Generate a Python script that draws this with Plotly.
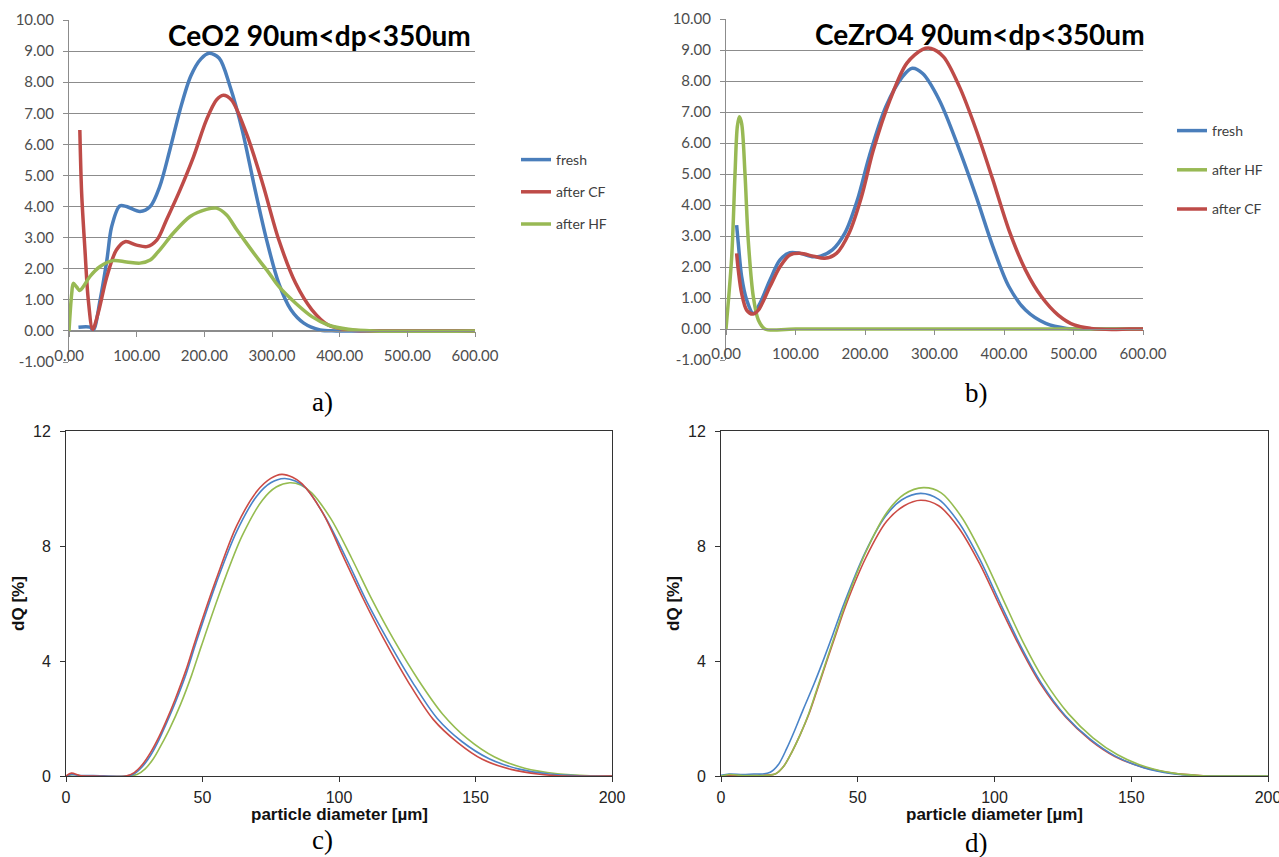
import plotly.graph_objects as go

# ---------------- data ----------------
# Panel a) CeO2 90um<dp<350um
a_fresh_x = [14, 31, 36, 46, 56, 63, 75, 85, 105, 120, 134, 149, 164, 180, 195, 207, 222, 238, 256, 274, 292, 310, 328, 347, 371, 395, 450, 600]
a_fresh_y = [0.12, 0.12, 0.03, 1.0, 2.28, 3.35, 4.02, 4.0, 3.84, 4.0, 4.64, 5.82, 7.1, 8.2, 8.75, 8.93, 8.77, 7.86, 6.46, 4.64, 2.93, 1.53, 0.68, 0.25, 0.03, 0.0, 0.0, 0.0]
a_cf_x = [16, 18.7, 23.6, 28.5, 35, 43, 56, 70, 83, 100, 115, 130, 144, 164, 184, 203, 218, 228, 240, 262, 286, 310, 335, 359, 383, 413, 450, 600]
a_cf_y = [6.46, 4.43, 2.6, 1.0, 0.05, 0.57, 1.75, 2.6, 2.87, 2.76, 2.71, 2.93, 3.57, 4.53, 5.6, 6.78, 7.43, 7.58, 7.43, 6.36, 4.75, 2.93, 1.53, 0.68, 0.19, 0.03, 0.0, 0.0]
a_hf_x = [0, 4, 6.4, 11, 16, 21, 31, 46, 65, 85, 105, 120, 134, 154, 179, 203, 218, 233, 248, 263, 280, 296, 310, 335, 359, 383, 413, 450, 600]
a_hf_y = [0, 1.2, 1.53, 1.42, 1.3, 1.42, 1.75, 2.07, 2.26, 2.22, 2.18, 2.28, 2.6, 3.14, 3.68, 3.91, 3.95, 3.73, 3.25, 2.8, 2.3, 1.85, 1.43, 0.89, 0.46, 0.19, 0.05, 0.0, 0.0]

# Panel b) CeZrO4 90um<dp<350um
b_fresh_x = [15.3, 17.7, 22.5, 29.7, 39.3, 48.9, 63.3, 77.7, 92, 106.5, 125.6, 136, 153, 171, 189, 206, 230, 254, 268, 283, 307, 336, 360, 384, 407, 431, 460, 490, 520, 600]
b_fresh_y = [3.35, 2.76, 1.69, 0.94, 0.5, 0.83, 1.58, 2.23, 2.46, 2.44, 2.33, 2.35, 2.55, 3.09, 4.16, 5.56, 7.17, 8.14, 8.41, 8.24, 7.38, 5.77, 4.27, 2.66, 1.37, 0.61, 0.18, 0.02, 0.0, 0.0]
b_hf_x = [0, 8.2, 13, 16.3, 19.2, 22.5, 27.3, 32, 39.3, 46.5, 56, 100, 600]
b_hf_y = [0, 2.33, 5.02, 6.53, 6.85, 6.63, 5.02, 2.87, 1.04, 0.29, 0.0, 0.0, 0.0]
b_cf_x = [15.3, 17.7, 22.5, 29.7, 38.4, 46.5, 63.3, 77.7, 92, 106.5, 125.6, 142, 159, 177, 195, 212, 236, 260, 283, 295, 313, 336, 360, 384, 407, 431, 454, 478, 501, 525, 555, 580, 600]
b_cf_y = [2.44, 1.9, 1.15, 0.61, 0.48, 0.61, 1.37, 2.01, 2.39, 2.44, 2.35, 2.28, 2.44, 3.09, 4.27, 5.77, 7.39, 8.57, 9.02, 9.05, 8.78, 7.81, 6.42, 4.81, 3.2, 1.9, 1.04, 0.45, 0.13, 0.02, -0.02, 0.0, 0.0]

# Panel c)
c_red_x = [0, 2, 5, 10, 22, 25, 28, 31, 34, 37, 40, 44, 47.5, 55, 62.5, 70, 75, 79, 83, 86.5, 94, 101.5, 109, 116.5, 125.5, 134.5, 143.5, 152.5, 163, 173.5, 182.5, 200]
c_red_y = [0, 0.1, 0.02, 0, 0, 0.12, 0.4, 0.82, 1.35, 1.98, 2.67, 3.7, 4.75, 6.84, 8.7, 9.91, 10.35, 10.49, 10.39, 10.16, 9.16, 7.65, 6.14, 4.75, 3.25, 1.97, 1.16, 0.58, 0.23, 0.06, 0, 0]
c_blue_x = [0, 2, 5, 10, 22, 25, 28, 31, 34, 37, 40, 44, 47.5, 55, 62.5, 70, 75, 80, 84, 88, 95, 102.5, 110, 118, 127, 136, 145, 155, 166, 177, 188, 200]
c_blue_y = [0, 0.05, 0.02, 0.02, 0, 0.08, 0.33, 0.72, 1.25, 1.88, 2.55, 3.55, 4.6, 6.7, 8.5, 9.75, 10.2, 10.35, 10.26, 10.0, 9.0, 7.6, 6.1, 4.7, 3.25, 2.0, 1.2, 0.6, 0.24, 0.07, 0.01, 0]
c_green_x = [0, 3, 6, 23, 26, 29, 32, 35, 38, 42, 46, 49.5, 57, 64.5, 72, 77, 82, 86, 90, 97, 104.5, 112, 120, 129, 138, 147, 157, 168, 180, 192, 200]
c_green_y = [0, 0.05, 0.0, 0, 0.05, 0.25, 0.6, 1.1, 1.65, 2.5, 3.5, 4.5, 6.55, 8.35, 9.6, 10.05, 10.2, 10.12, 9.85, 8.95, 7.6, 6.15, 4.75, 3.35, 2.15, 1.3, 0.66, 0.27, 0.08, 0.01, 0]

# Panel d)
d_blue_x = [0, 3, 8, 12, 15, 18, 21, 24, 27, 30, 34, 37.7, 41, 45, 52.7, 60.2, 66, 73, 79.6, 87, 94.6, 102, 109.6, 117, 126, 135, 144, 154.5, 165, 174, 185, 200]
d_blue_y = [0.02, 0.07, 0.05, 0.07, 0.07, 0.13, 0.4, 0.95, 1.6, 2.3, 3.2, 4.1, 4.95, 6.0, 7.77, 9.04, 9.6, 9.83, 9.62, 8.81, 7.54, 6.03, 4.52, 3.25, 2.09, 1.28, 0.7, 0.29, 0.08, 0.01, 0, 0]
d_green_x = [0, 3, 8, 16, 20, 23, 26, 29, 32, 35, 38.5, 42, 45.5, 53, 60.5, 67, 74, 80.5, 88, 95.5, 103, 110.5, 118, 127, 136, 145, 155.5, 166, 176, 185, 200]
d_green_y = [0, 0.05, 0.02, 0.02, 0.08, 0.35, 0.85, 1.45, 2.15, 3.0, 4.0, 5.0, 6.0, 7.8, 9.15, 9.8, 10.03, 9.85, 9.0, 7.7, 6.17, 4.65, 3.35, 2.17, 1.33, 0.74, 0.31, 0.09, 0.01, 0, 0]
d_red_x = [0, 5, 16, 20, 23, 26, 29, 32, 35, 38.5, 42, 45.5, 53, 60.5, 67, 73, 79.6, 87, 94.6, 102, 109.6, 117, 126, 135, 144, 154.5, 165, 175, 185, 200]
d_red_y = [0, 0.03, 0.03, 0.08, 0.35, 0.85, 1.45, 2.12, 2.95, 3.95, 4.93, 5.9, 7.6, 8.85, 9.4, 9.59, 9.4, 8.62, 7.38, 5.9, 4.43, 3.18, 2.05, 1.25, 0.68, 0.3, 0.1, 0.02, 0, 0]

# ticks / labels
ab_x_ticks = [0, 100, 200, 300, 400, 500, 600]
ab_x_ticklabels = ["0.00", "100.00", "200.00", "300.00", "400.00", "500.00", "600.00"]
ab_y_ticks = [-1, 0, 1, 2, 3, 4, 5, 6, 7, 8, 9, 10]
ab_y_ticklabels = ["-1.00", "0.00", "1.00", "2.00", "3.00", "4.00", "5.00", "6.00", "7.00", "8.00", "9.00", "10.00"]
cd_x_ticks = [0, 50, 100, 150, 200]
cd_y_ticks = [0, 4, 8, 12]
cd_x_title = "particle diameter [µm]"
cd_y_title = "dQ [%]"
title_a = "CeO2 90um&lt;dp&lt;350um"
title_b = "CeZrO4 90um&lt;dp&lt;350um"
panel_labels = ["a)", "b)", "c)", "d)"]

BLUE = "#4A7EBB"
RED = "#BE4B48"
GREEN = "#98B954"
BLUE2 = "#4A84C8"
RED2 = "#CC4B45"
GREEN2 = "#95BC50"

W, H = 1279, 857
def px(x):
    return x / W
def py(y):
    return 1 - y / H

fig = go.Figure()

def add_line(x, y, name, color, xa, ya, width, legend=None, showlegend=False):
    fig.add_trace(go.Scatter(
        x=x, y=y, name=name, mode="lines",
        line=dict(color=color, width=width, shape="spline", smoothing=0.9),
        xaxis=xa, yaxis=ya, showlegend=showlegend,
        legend=legend if legend else "legend", legendgroup=name + (legend or ""),
        hoverinfo="skip"))

# a
add_line(a_fresh_x, a_fresh_y, "fresh", BLUE, "x", "y", 3.5, "legend", True)
add_line(a_cf_x, a_cf_y, "after CF", RED, "x", "y", 3.5, "legend", True)
add_line(a_hf_x, a_hf_y, "after HF", GREEN, "x", "y", 3.5, "legend", True)
# b
add_line(b_fresh_x, b_fresh_y, "fresh", BLUE, "x2", "y2", 3.5, "legend2", True)
add_line(b_hf_x, b_hf_y, "after HF", GREEN, "x2", "y2", 3.5, "legend2", True)
add_line(b_cf_x, b_cf_y, "after CF", RED, "x2", "y2", 3.5, "legend2", True)
# c
add_line(c_green_x, c_green_y, "c green", GREEN2, "x3", "y3", 1.6)
add_line(c_blue_x, c_blue_y, "c blue", BLUE2, "x3", "y3", 1.6)
add_line(c_red_x, c_red_y, "c red", RED2, "x3", "y3", 1.6)
# d
add_line(d_red_x, d_red_y, "d red", RED2, "x4", "y4", 1.6)
add_line(d_blue_x, d_blue_y, "d blue", BLUE2, "x4", "y4", 1.6)
add_line(d_green_x, d_green_y, "d green", GREEN2, "x4", "y4", 1.6)

GRID = "#8C8C8C"
TICKFONT_AB = dict(family="Lato", size=15, color="#4D4D4D")

a_xdom = [px(69), px(475)]
a_ydom = [py(362), py(20)]
b_xdom = [px(726), px(1143)]
b_ydom = [py(360), py(19)]

def ab_axes(xdom, ydom):
    zero_pos = ydom[0] + (ydom[1] - ydom[0]) / 11.0
    xa = dict(domain=xdom, range=[0, 600], anchor="free", position=zero_pos,
              tickvals=ab_x_ticks, ticktext=ab_x_ticklabels, ticks="outside", ticklen=5,
              tickcolor=GRID, showline=True, linecolor=GRID, linewidth=1,
              showgrid=False, zeroline=False, tickfont=TICKFONT_AB, ticklabelstandoff=6,
              automargin=False, ticklabeloverflow="allow")
    ya = dict(domain=ydom, range=[-1, 10], tickvals=ab_y_ticks, ticktext=ab_y_ticklabels,
              ticks="outside", ticklen=5, tickcolor=GRID, showline=True, linecolor=GRID,
              linewidth=1, showgrid=True, gridcolor=GRID, gridwidth=1, zeroline=False,
              tickfont=TICKFONT_AB, ticklabelstandoff=6, automargin=False,
              ticklabeloverflow="allow")
    return xa, ya

xa, ya = ab_axes(a_xdom, a_ydom)
xb, yb = ab_axes(b_xdom, b_ydom)
ya["anchor"] = "x"
yb["anchor"] = "x2"

AX = "#333333"
TICKFONT_CD = dict(family="Liberation Sans", size=16, color="#222222")
TITLEFONT_CD = dict(family="Liberation Sans", size=17, color="#111111")

def cd_axes(xdom, ydom, yanchor, xanchor):
    xa = dict(domain=xdom, range=[0, 200], anchor=yanchor, tickvals=cd_x_ticks,
              ticks="outside", ticklen=5, tickcolor=AX, showline=True, linecolor=AX,
              linewidth=1, mirror=True, showgrid=False, zeroline=False,
              tickfont=TICKFONT_CD, ticklabelstandoff=2, automargin=False,
              ticklabeloverflow="allow")
    ya = dict(domain=ydom, range=[0, 12], anchor=xanchor, tickvals=cd_y_ticks,
              ticks="outside", ticklen=5, tickcolor=AX, showline=True, linecolor=AX,
              linewidth=1, mirror=True, showgrid=False, zeroline=False,
              tickfont=TICKFONT_CD, ticklabelstandoff=6, automargin=False,
              ticklabeloverflow="allow",
              title=dict(text="<b>" + cd_y_title + "</b>", font=TITLEFONT_CD, standoff=4))
    return xa, ya

c_xdom = [px(66), px(612)]
c_ydom = [py(776), py(431)]
d_xdom = [px(721), px(1268)]
d_ydom = [py(776), py(431)]
xc, yc = cd_axes(c_xdom, c_ydom, "y3", "x3")
xd, yd = cd_axes(d_xdom, d_ydom, "y4", "x4")

legend_font = dict(family="Lato", size=14, color="#404040")
fig.update_layout(
    width=W, height=H,
    margin=dict(l=0, r=0, t=0, b=0, autoexpand=False),
    paper_bgcolor="white", plot_bgcolor="white",
    xaxis=xa, yaxis=ya, xaxis2=xb, yaxis2=yb,
    xaxis3=xc, yaxis3=yc, xaxis4=xd, yaxis4=yd,
    legend=dict(x=px(516), y=py(144), xanchor="left", yanchor="top",
                font=legend_font, bgcolor="rgba(0,0,0,0)", tracegroupgap=11,
                itemwidth=30),
    legend2=dict(x=px(1172), y=py(115), xanchor="left", yanchor="top",
                 font=legend_font, bgcolor="rgba(0,0,0,0)", tracegroupgap=18,
                 itemwidth=30),
)

annotations = [
    dict(text="<b>" + title_a + "</b>", x=px(319), y=py(35), xref="paper", yref="paper",
         showarrow=False, font=dict(family="Lato", size=28, color="#000000"),
         xanchor="center", yanchor="middle"),
    dict(text="<b>" + title_b + "</b>", x=px(980), y=py(34), xref="paper", yref="paper",
         showarrow=False, font=dict(family="Lato", size=28, color="#000000"),
         xanchor="center", yanchor="middle"),
]
# x-axis titles of panels c) and d), placed just under the tick labels
for xdom in (c_xdom, d_xdom):
    annotations.append(dict(text="<b>" + cd_x_title + "</b>", x=(xdom[0] + xdom[1]) / 2,
                            y=py(814), xref="paper", yref="paper", showarrow=False,
                            xanchor="center", yanchor="middle", font=TITLEFONT_CD))
label_pos = [(322, 402), (976, 393), (322, 840), (976, 843)]
for lab, (lx, ly) in zip(panel_labels, label_pos):
    annotations.append(dict(text=lab, x=px(lx), y=py(ly), xref="paper", yref="paper",
                            showarrow=False, xanchor="center", yanchor="middle",
                            font=dict(family="Liberation Serif", size=27, color="#000000")))
fig.update_layout(annotations=annotations)

fig.write_html("out.html", config={"displayModeBar": False},
               post_script="document.body.style.margin='0px';")
